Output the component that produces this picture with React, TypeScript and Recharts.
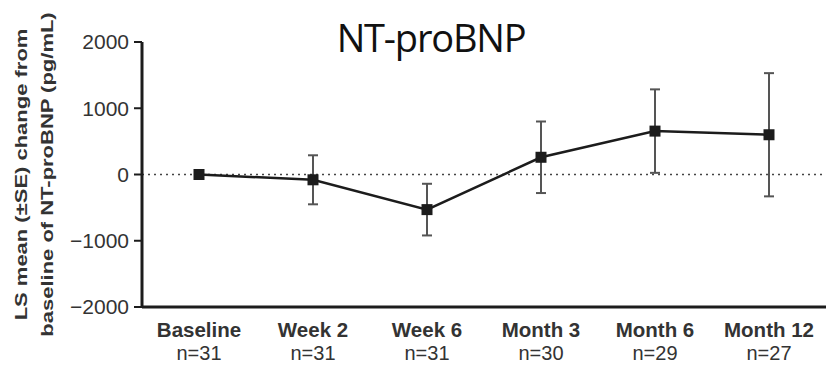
import { ErrorBar, Label, Line, LineChart, ReferenceLine, XAxis, YAxis } from "recharts";

const visits = ["Baseline", "Week 2", "Week 6", "Month 3", "Month 6", "Month 12"];
const sampleSizes = [31, 31, 31, 30, 29, 27];
const meanChange = [0, -80, -530, 260, 655, 600];
const standardError = [60, 370, 390, 540, 630, 930];
const yTicks = [-2000, -1000, 0, 1000, 2000];

const data = visits.map((visit, i) => ({
  visit,
  n: sampleSizes[i],
  mean: meanChange[i],
  se: standardError[i],
}));

const INK = "#1c1c1c";
const TEXT = "#333";
const FONT = "'Liberation Sans', Arial, sans-serif";

function VisitTick({ x, y, payload, index }: any) {
  return (
    <g fontFamily={FONT} fill={TEXT} textAnchor="middle">
      <text x={x} y={y + 22} fontSize={20.5} fontWeight="bold">{payload.value}</text>
      <text x={x} y={y + 45} fontSize={20}>n={sampleSizes[index]}</text>
    </g>
  );
}

function SquareDot({ cx, cy }: any) {
  if (cx == null || cy == null) return null;
  return <rect x={cx - 5.5} y={cy - 5.5} width={11} height={11} fill={INK} />;
}

// rotated label is squashed across its height, like the source image
function AxisTitle({ viewBox }: any) {
  const cy = viewBox.y + viewBox.height / 2;
  return (
    <g fontFamily={FONT} fontSize={22} fontWeight="bold" fill={TEXT} textAnchor="middle">
      <text transform={`translate(27, ${cy}) rotate(-90) scale(1, 0.76)`}>LS mean (±SE) change from</text>
      <text transform={`translate(53, ${cy}) rotate(-90) scale(1, 0.76)`}>baseline of NT-proBNP (pg/mL)</text>
    </g>
  );
}

export default function App() {
  return (
    <div style={{ position: "absolute", left: 0, top: 0, width: 826, height: 365, background: "#fff" }}>
      <div
        style={{
          position: "absolute",
          left: 0,
          width: 862,
          top: 11,
          textAlign: "center",
          fontFamily: "'Open Sans', sans-serif",
          fontSize: 38,
          color: "#111",
          letterSpacing: -1.2,
          lineHeight: "52px",
        }}
      >
        NT-proBNP
      </div>
      <LineChart width={826} height={365} data={data} margin={{ top: 42, right: 0, bottom: 0, left: 0 }}>
        <XAxis
          dataKey="visit"
          scale="band"
          height={58}
          tickLine={false}
          axisLine={{ stroke: INK, strokeWidth: 3 }}
          tick={<VisitTick />}
          interval={0}
        />
        <YAxis
          domain={[-2000, 2000]}
          ticks={yTicks}
          width={142}
          tickSize={8}
          tickMargin={5}
          tickLine={{ stroke: INK, strokeWidth: 2 }}
          axisLine={{ stroke: INK, strokeWidth: 3 }}
          tick={{ fill: TEXT, fontSize: 21, fontFamily: FONT }}
          tickFormatter={(v: number) => String(v).replace("-", "\u2212")}
        >
          <Label content={<AxisTitle />} />
        </YAxis>
        <ReferenceLine y={0} stroke="#444" strokeWidth={1.5} strokeDasharray="2 4" />
        <Line
          dataKey="mean"
          stroke={INK}
          strokeWidth={2.5}
          dot={<SquareDot />}
          activeDot={false}
          isAnimationActive={false}
        >
          <ErrorBar dataKey="se" direction="y" width={5} stroke="#555" strokeWidth={2} />
        </Line>
      </LineChart>
    </div>
  );
}
